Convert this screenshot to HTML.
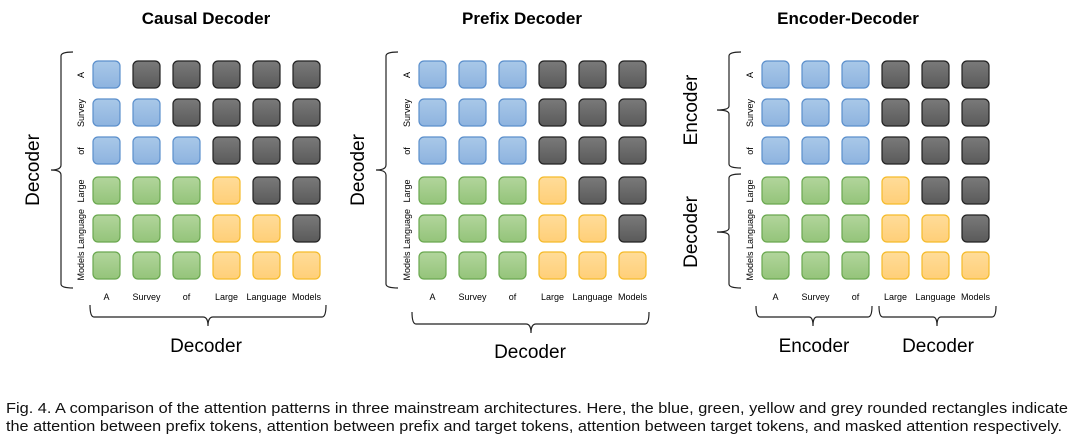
<!DOCTYPE html>
<html><head><meta charset="utf-8"><style>
body{margin:0;background:#fff;}
svg{display:block;font-family:"Liberation Sans",Arial,sans-serif;}
.t{font-weight:bold;font-size:17px;}
.l{font-size:9px;}
.big{font-size:19px;}
.br{fill:none;stroke:#222;stroke-width:1.2;}
</style></head><body>
<svg width="1074" height="441" viewBox="0 0 1074 441" xmlns="http://www.w3.org/2000/svg">
<defs>
<linearGradient id="gb" x1="0" y1="0" x2="0" y2="1"><stop offset="0" stop-color="#a9c8e8"/><stop offset="1" stop-color="#8db3df"/></linearGradient>
<linearGradient id="gg" x1="0" y1="0" x2="0" y2="1"><stop offset="0" stop-color="#b2d59c"/><stop offset="1" stop-color="#94c47a"/></linearGradient>
<linearGradient id="gy" x1="0" y1="0" x2="0" y2="1"><stop offset="0" stop-color="#ffdc99"/><stop offset="1" stop-color="#ffcf78"/></linearGradient>
<linearGradient id="gk" x1="0" y1="0" x2="0" y2="1"><stop offset="0" stop-color="#7a7a7a"/><stop offset="1" stop-color="#5a5a5a"/></linearGradient>
<rect id="B" width="27" height="27" rx="5" fill="url(#gb)" stroke="#5b8fcc" stroke-width="1.2"/>
<rect id="G" width="27" height="27" rx="5" fill="url(#gg)" stroke="#6aa84f" stroke-width="1.2"/>
<rect id="Y" width="27" height="27" rx="5" fill="url(#gy)" stroke="#f5bb2a" stroke-width="1.2"/>
<rect id="K" width="27" height="27" rx="5" fill="url(#gk)" stroke="#222" stroke-width="1.2"/>
</defs>

<text class="t" x="206" y="24" text-anchor="middle">Causal Decoder</text>
<text class="t" x="522" y="24" text-anchor="middle">Prefix Decoder</text>
<text class="t" x="848" y="24" text-anchor="middle">Encoder-Decoder</text>

<!-- Panel 1 -->
<g transform="translate(93,0)">
<use href="#B" x="0" y="61"/><use href="#K" x="40" y="61"/><use href="#K" x="80" y="61"/><use href="#K" x="120" y="61"/><use href="#K" x="160" y="61"/><use href="#K" x="200" y="61"/>
<use href="#B" x="0" y="99"/><use href="#B" x="40" y="99"/><use href="#K" x="80" y="99"/><use href="#K" x="120" y="99"/><use href="#K" x="160" y="99"/><use href="#K" x="200" y="99"/>
<use href="#B" x="0" y="137"/><use href="#B" x="40" y="137"/><use href="#B" x="80" y="137"/><use href="#K" x="120" y="137"/><use href="#K" x="160" y="137"/><use href="#K" x="200" y="137"/>
<use href="#G" x="0" y="177"/><use href="#G" x="40" y="177"/><use href="#G" x="80" y="177"/><use href="#Y" x="120" y="177"/><use href="#K" x="160" y="177"/><use href="#K" x="200" y="177"/>
<use href="#G" x="0" y="215"/><use href="#G" x="40" y="215"/><use href="#G" x="80" y="215"/><use href="#Y" x="120" y="215"/><use href="#Y" x="160" y="215"/><use href="#K" x="200" y="215"/>
<use href="#G" x="0" y="252"/><use href="#G" x="40" y="252"/><use href="#G" x="80" y="252"/><use href="#Y" x="120" y="252"/><use href="#Y" x="160" y="252"/><use href="#Y" x="200" y="252"/>
<g class="l" text-anchor="middle">
<text x="13.5" y="300">A</text><text x="53.5" y="300">Survey</text><text x="93.5" y="300">of</text><text x="133.5" y="300">Large</text><text x="173.5" y="300">Language</text><text x="213.5" y="300">Models</text>
<text transform="translate(-9,75) rotate(-90)">A</text>
<text transform="translate(-9,113) rotate(-90)">Survey</text>
<text transform="translate(-9,151) rotate(-90)">of</text>
<text transform="translate(-9,191) rotate(-90)">Large</text>
<text transform="translate(-9,229) rotate(-90)">Language</text>
<text transform="translate(-9,266) rotate(-90)">Models</text>
</g>
</g>
<path class="br" d="M73,52 Q61,52 61,56 L61,165 Q61,170 51,170 Q61,170 61,175 L61,284 Q61,288 73,288"/>
<text class="big" transform="translate(39,170) rotate(-90)" text-anchor="middle">Decoder</text>
<path class="br" d="M90,305 Q90,317 94,317 L203,317 Q208,317 208,326 Q208,317 213,317 L322,317 Q326,317 326,305"/>
<text class="big" x="206" y="352" text-anchor="middle">Decoder</text>

<!-- Panel 2 -->
<g transform="translate(419,0)">
<use href="#B" x="0" y="61"/><use href="#B" x="40" y="61"/><use href="#B" x="80" y="61"/><use href="#K" x="120" y="61"/><use href="#K" x="160" y="61"/><use href="#K" x="200" y="61"/>
<use href="#B" x="0" y="99"/><use href="#B" x="40" y="99"/><use href="#B" x="80" y="99"/><use href="#K" x="120" y="99"/><use href="#K" x="160" y="99"/><use href="#K" x="200" y="99"/>
<use href="#B" x="0" y="137"/><use href="#B" x="40" y="137"/><use href="#B" x="80" y="137"/><use href="#K" x="120" y="137"/><use href="#K" x="160" y="137"/><use href="#K" x="200" y="137"/>
<use href="#G" x="0" y="177"/><use href="#G" x="40" y="177"/><use href="#G" x="80" y="177"/><use href="#Y" x="120" y="177"/><use href="#K" x="160" y="177"/><use href="#K" x="200" y="177"/>
<use href="#G" x="0" y="215"/><use href="#G" x="40" y="215"/><use href="#G" x="80" y="215"/><use href="#Y" x="120" y="215"/><use href="#Y" x="160" y="215"/><use href="#K" x="200" y="215"/>
<use href="#G" x="0" y="252"/><use href="#G" x="40" y="252"/><use href="#G" x="80" y="252"/><use href="#Y" x="120" y="252"/><use href="#Y" x="160" y="252"/><use href="#Y" x="200" y="252"/>
<g class="l" text-anchor="middle">
<text x="13.5" y="300">A</text><text x="53.5" y="300">Survey</text><text x="93.5" y="300">of</text><text x="133.5" y="300">Large</text><text x="173.5" y="300">Language</text><text x="213.5" y="300">Models</text>
<text transform="translate(-9,75) rotate(-90)">A</text>
<text transform="translate(-9,113) rotate(-90)">Survey</text>
<text transform="translate(-9,151) rotate(-90)">of</text>
<text transform="translate(-9,191) rotate(-90)">Large</text>
<text transform="translate(-9,229) rotate(-90)">Language</text>
<text transform="translate(-9,266) rotate(-90)">Models</text>
</g>
</g>
<path class="br" d="M398,52 Q386,52 386,56 L386,165 Q386,170 376,170 Q386,170 386,175 L386,284 Q386,288 398,288"/>
<text class="big" transform="translate(364,170) rotate(-90)" text-anchor="middle">Decoder</text>
<path class="br" d="M412,312 Q412,324 416,324 L526,324 Q531,324 531,333 Q531,324 536,324 L645,324 Q649,324 649,312"/>
<text class="big" x="530" y="358" text-anchor="middle">Decoder</text>

<!-- Panel 3 -->
<g transform="translate(762,0)">
<use href="#B" x="0" y="61"/><use href="#B" x="40" y="61"/><use href="#B" x="80" y="61"/><use href="#K" x="120" y="61"/><use href="#K" x="160" y="61"/><use href="#K" x="200" y="61"/>
<use href="#B" x="0" y="99"/><use href="#B" x="40" y="99"/><use href="#B" x="80" y="99"/><use href="#K" x="120" y="99"/><use href="#K" x="160" y="99"/><use href="#K" x="200" y="99"/>
<use href="#B" x="0" y="137"/><use href="#B" x="40" y="137"/><use href="#B" x="80" y="137"/><use href="#K" x="120" y="137"/><use href="#K" x="160" y="137"/><use href="#K" x="200" y="137"/>
<use href="#G" x="0" y="177"/><use href="#G" x="40" y="177"/><use href="#G" x="80" y="177"/><use href="#Y" x="120" y="177"/><use href="#K" x="160" y="177"/><use href="#K" x="200" y="177"/>
<use href="#G" x="0" y="215"/><use href="#G" x="40" y="215"/><use href="#G" x="80" y="215"/><use href="#Y" x="120" y="215"/><use href="#Y" x="160" y="215"/><use href="#K" x="200" y="215"/>
<use href="#G" x="0" y="252"/><use href="#G" x="40" y="252"/><use href="#G" x="80" y="252"/><use href="#Y" x="120" y="252"/><use href="#Y" x="160" y="252"/><use href="#Y" x="200" y="252"/>
<g class="l" text-anchor="middle">
<text x="13.5" y="300">A</text><text x="53.5" y="300">Survey</text><text x="93.5" y="300">of</text><text x="133.5" y="300">Large</text><text x="173.5" y="300">Language</text><text x="213.5" y="300">Models</text>
<text transform="translate(-9,75) rotate(-90)">A</text>
<text transform="translate(-9,113) rotate(-90)">Survey</text>
<text transform="translate(-9,151) rotate(-90)">of</text>
<text transform="translate(-9,191) rotate(-90)">Large</text>
<text transform="translate(-9,229) rotate(-90)">Language</text>
<text transform="translate(-9,266) rotate(-90)">Models</text>
</g>
</g>
<path class="br" d="M741,52 Q729,52 729,56 L729,106 Q729,110 717,110 Q729,110 729,114 L729,164 Q729,168 741,168"/>
<path class="br" d="M741,174 Q729,174 729,178 L729,228 Q729,232 717,232 Q729,232 729,236 L729,284 Q729,288 741,288"/>
<text class="big" transform="translate(697,110) rotate(-90)" text-anchor="middle">Encoder</text>
<text class="big" transform="translate(697,232) rotate(-90)" text-anchor="middle">Decoder</text>
<path class="br" d="M756,306 Q756,317 760,317 L809,317 Q813,317 813,326 Q813,317 817,317 L868,317 Q872,317 872,306"/>
<path class="br" d="M879,306 Q879,317 883,317 L933,317 Q937,317 937,326 Q937,317 941,317 L992,317 Q996,317 996,306"/>
<text class="big" x="814" y="352" text-anchor="middle">Encoder</text>
<text class="big" x="938" y="352" text-anchor="middle">Decoder</text>

<text x="6" y="413" font-size="14.5" fill="#111" textLength="1062" lengthAdjust="spacingAndGlyphs">Fig. 4. A comparison of the attention patterns in three mainstream architectures. Here, the blue, green, yellow and grey rounded rectangles indicate</text>
<text x="6" y="431" font-size="14.5" fill="#111" textLength="1056" lengthAdjust="spacingAndGlyphs">the attention between prefix tokens, attention between prefix and target tokens, attention between target tokens, and masked attention respectively.</text>
</svg>
</body></html>
